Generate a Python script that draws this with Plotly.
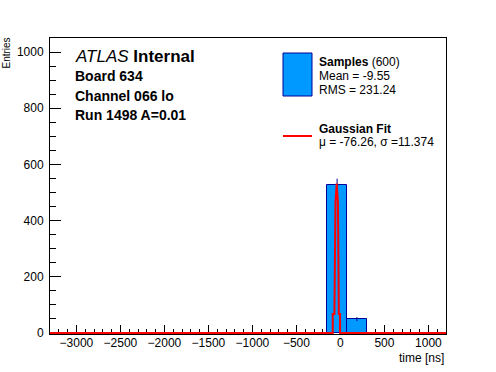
import plotly.graph_objects as go

# ---- data ----
bin_left_edges = [-3300, -3075, -2850, -2625, -2400, -2175, -1950, -1725, -1500, -1275,
                  -1050, -825, -600, -375, -150, 75, 300, 525, 750, 975]
bin_counts = [0, 0, 0, 0, 0, 0, 0, 0, 0, 0,
              0, 0, 0, 0, 526, 49, 0, 0, 0, 0]
bin_errors = [0, 0, 0, 0, 0, 0, 0, 0, 0, 0,
              0, 0, 0, 0, 23, 7, 0, 0, 0, 0]
bin_width = 225

fit_x = [-3300, -87, -87, -68, -56, -42, -28, -18, -4, -4, 1200]
fit_y = [0, 0, 67, 67, 465, 532, 465, 67, 67, 0, 0]

x_range = [-3300, 1200]
y_range = [-4, 1050]

FILL = "#0099ff"
EDGE = "#000099"
FONT = "Liberation Sans, Arial, Helvetica, sans-serif"

bin_centers = [e + bin_width / 2 for e in bin_left_edges]

fig = go.Figure()
fig.add_trace(go.Bar(
    x=bin_centers, y=bin_counts, width=bin_width,
    marker=dict(color=FILL, line=dict(color=EDGE, width=1)),
    showlegend=False, hoverinfo="skip",
))
fig.add_trace(go.Scatter(
    x=bin_centers, y=bin_counts, mode="markers",
    marker=dict(size=0.1, color=EDGE, opacity=0),
    error_y=dict(type="data", array=bin_errors, visible=True,
                 color=EDGE, thickness=1, width=0),
    showlegend=False, hoverinfo="skip",
))
fig.add_trace(go.Scatter(
    x=fit_x, y=fit_y, mode="lines",
    line=dict(color="#ff0000", width=2),
    cliponaxis=False,
    showlegend=False, hoverinfo="skip",
))

# geometry helpers (pixel -> paper)
L, R, T, B = 50, 50, 38, 38
W, H = 496, 372
pw, ph = W - L - R, H - T - B


def px(x):
    return (x - L) / pw


def py(y):
    return (H - B - y) / ph


fig.update_layout(
    width=W, height=H,
    margin=dict(l=L, r=R, t=T, b=B, pad=0),
    paper_bgcolor="white", plot_bgcolor="white",
    bargap=0,
    font=dict(family=FONT, size=12, color="black"),
    xaxis=dict(
        range=x_range, tick0=0, dtick=500, ticks="inside", ticklen=9,
        tickcolor="black", showline=True, linecolor="black", linewidth=1,
        mirror=True, showgrid=False, zeroline=False,
        minor=dict(dtick=100, ticks="inside", ticklen=5, tickcolor="black"),
        tickfont=dict(family=FONT, size=12, color="black"),
        ticklabelstandoff=-2,
        layer="below traces",
    ),
    yaxis=dict(
        range=y_range, tick0=0, dtick=200, ticks="inside", ticklen=11,
        tickcolor="black", showline=True, linecolor="black", linewidth=1,
        mirror=True, showgrid=False, zeroline=False,
        minor=dict(dtick=50, ticks="inside", ticklen=6, tickcolor="black"),
        tickfont=dict(family=FONT, size=12, color="black"),
        ticklabelstandoff=3,
        layer="below traces",
    ),
)

# legend box / line
fig.add_shape(type="rect", xref="paper", yref="paper",
              x0=px(283), x1=px(312), y0=py(96), y1=py(53),
              fillcolor=FILL, line=dict(color=EDGE, width=1))
fig.add_shape(type="line", xref="paper", yref="paper",
              x0=px(283), x1=px(312), y0=py(136), y1=py(136),
              line=dict(color="#ff0000", width=2))


def txt(x, y, s, size):
    fig.add_annotation(xref="paper", yref="paper", x=px(x), y=py(y), text=s,
                       showarrow=False, xanchor="left", yanchor="middle",
                       font=dict(family=FONT, size=size, color="black"))


txt(317, 62, "<b>Samples</b> (600)", 12)
txt(317, 76, "Mean = -9.55", 12)
txt(317, 90, "RMS = 231.24", 12)
txt(317, 129, "<b>Gaussian Fit</b>", 12)
txt(317, 142, "μ = -76.26, σ =11.374", 12)

txt(73, 56, "<i>ATLAS</i> <b>Internal</b>", 17)
txt(73, 76, "<b>Board 634</b>", 14)
txt(73, 96, "<b>Channel 066 lo</b>", 14)
txt(73, 115, "<b>Run 1498 A=0.01</b>", 14)

fig.add_annotation(xref="paper", yref="paper", x=px(446), y=py(357.5),
                   text="time [ns]", showarrow=False, xanchor="right", yanchor="middle",
                   font=dict(family=FONT, size=12, color="black"))
fig.add_annotation(xref="paper", yref="paper", x=px(6), y=py(36),
                   text="Entries", showarrow=False, textangle=-90,
                   xanchor="center", yanchor="top",
                   font=dict(family=FONT, size=10, color="black"))

fig.write_html("out.html",
               config={"displayModeBar": False},
               post_script="document.body.style.margin='0';document.body.style.padding='0';")
